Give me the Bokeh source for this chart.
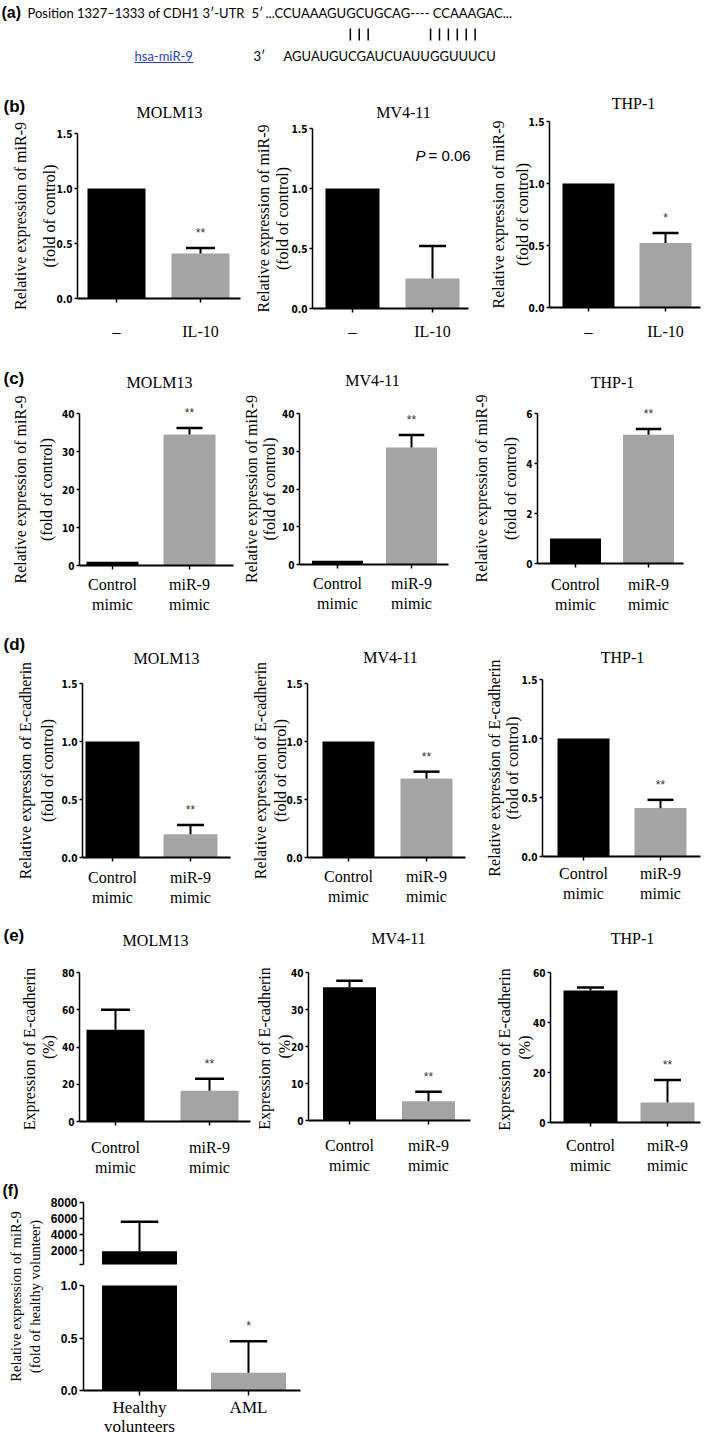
import numpy as np
from bokeh.plotting import figure
from bokeh.layouts import row, column
from bokeh.models import Range1d, Label, FixedTicker, NumeralTickFormatter, LinearAxis
from bokeh.embed import file_html
from bokeh.resources import INLINE

# ---------------- data ----------------
seq_label = "Position 1327\u20131333 of CDH1 3\u2032-UTR"
utr_prime = "5\u2032"
utr_seq = "...CCUAAAGUGCUGCAG---- CCAAAGAC..."
mir_name = "hsa-miR-9"
mir_prime = "3\u2032"
mir_seq = "AGUAUGUCGAUCUAUUGGUUUCU"
pair_idx = [7, 8, 9, 16, 17, 18, 19, 20, 21]

cell_lines = ["MOLM13", "MV4-11", "THP-1"]
mimic_groups = ["Control\nmimic", "miR-9\nmimic"]

b_groups = ["\u2013", "IL-10"]
b_yticks = [0, 0.5, 1.0, 1.5]
b_means = [[1.0, 0.41], [1.0, 0.25], [1.0, 0.52]]
b_errs = [[0.0, 0.05], [0.0, 0.27], [0.0, 0.08]]
b_stars = [["", "**"], ["", ""], ["", "*"]]
b_note = ("P", "= 0.06")

c_yticks = [[0, 10, 20, 30, 40], [0, 10, 20, 30, 40], [0, 2, 4, 6]]
c_means = [[1.0, 34.5], [1.0, 31.0], [1.0, 5.15]]
c_errs = [[0.0, 1.7], [0.0, 3.3], [0.0, 0.23]]
c_stars = [["", "**"], ["", "**"], ["", "**"]]

d_yticks = [0, 0.5, 1.0, 1.5]
d_means = [[1.0, 0.20], [1.0, 0.68], [1.0, 0.41]]
d_errs = [[0.0, 0.08], [0.0, 0.06], [0.0, 0.07]]
d_stars = [["", "**"], ["", "**"], ["", "**"]]

e_yticks = [[0, 20, 40, 60, 80], [0, 10, 20, 30, 40], [0, 20, 40, 60]]
e_means = [[49.3, 16.5], [36.0, 5.2], [52.8, 8.0]]
e_errs = [[10.7, 6.5], [1.8, 2.6], [1.2, 9.0]]
e_stars = [["", "**"], ["", "**"], ["", "**"]]

f_groups = ["Healthy\nvolunteers", "AML"]
f_means = [1900.0, 0.17]
f_errs = [3700.0, 0.30]
f_stars = ["", "*"]
f_top_ticks = [2000, 4000, 6000, 8000]
f_top_floor = 250
f_bot_ticks = [0, 0.5, 1.0]

ylab_mir = ["Relative expression of miR-9", "(fold of control)"]
ylab_ecad_rel = ["Relative expression of E-cadherin", "(fold of control)"]
ylab_ecad_pct = ["Expression of  E-cadherin", "(%)"]
ylab_f = ["Relative expression of miR-9", "(fold of healthy volunteer)"]

# ---------------- styles / layout ----------------
BLACK = "#000000"
GRAY = "#a4a4a4"
SERIF = "Liberation Serif"
SANS = "Liberation Sans"
NARROW = "Liberation Sans Narrow, DejaVu Sans Condensed, sans-serif"
CALIBRI = "Lato"


def base_figure(fw, fh, xr, yr):
    p = figure(width=fw, height=fh, x_range=Range1d(*xr), y_range=Range1d(*yr),
               min_border_left=0, min_border_right=0, min_border_top=0,
               min_border_bottom=0, output_backend="svg", toolbar_location=None,
               tools="", title=None)
    p.outline_line_color = None
    p.xgrid.visible = False
    p.ygrid.visible = False
    p.background_fill_color = "white"
    p.border_fill_color = "white"
    return p


def add_label(p, x, y, text, size="16px", font=SERIF, align="center", angle=0.0,
              style="normal", color=BLACK, range_name="default"):
    p.add_layout(Label(x=x, y=y, text=text, angle=angle, text_align=align,
                       text_baseline="middle", text_font=font, text_font_size=size,
                       text_font_style=style, text_color=color, y_range_name=range_name))


def style_yaxis(ya, ticks, fmt, loc, bounds, size="10px", family=NARROW, minor=None,
                tick_out=3):
    ya.ticker = FixedTicker(ticks=ticks, minor_ticks=minor or [])
    ya.formatter = NumeralTickFormatter(format=fmt)
    ya.fixed_location = loc
    ya.bounds = bounds
    ya.major_tick_out = tick_out
    ya.major_tick_in = 0
    ya.minor_tick_out = tick_out if minor else 0
    ya.minor_tick_in = 0
    ya.minor_tick_line_width = 1.5
    ya.axis_line_width = 1.5
    ya.major_tick_line_width = 1.5
    ya.major_label_text_font = family
    ya.major_label_text_font_style = "bold"
    ya.major_label_text_font_size = size
    ya.major_label_text_color = BLACK
    ya.major_label_standoff = 2


def style_xaxis(xa, groups, loc, bounds, xfont, lh, standoff, tick_out=4):
    xa.ticker = FixedTicker(ticks=[1, 2])
    xa.major_label_overrides = {1: groups[0], 2: groups[1]}
    xa.fixed_location = loc
    xa.bounds = bounds
    xa.major_tick_out = tick_out
    xa.major_tick_in = 0
    xa.minor_tick_out = 0
    xa.minor_tick_in = 0
    xa.axis_line_width = 2
    xa.major_tick_line_width = 1.5
    xa.major_label_text_font = SERIF
    xa.major_label_text_font_size = f"{xfont}px"
    xa.major_label_text_color = BLACK
    xa.major_label_text_line_height = lh
    xa.major_label_standoff = max(0, int(round(standoff)))


def draw_bars(p, xs, means, errs, bw, lo, hi, range_name="default"):
    keep = [i for i, m in enumerate(means) if m > lo]
    p.vbar(x=[xs[i] for i in keep], top=[min(means[i], hi) for i in keep],
           bottom=max(lo, 0), width=bw,
           fill_color=[[BLACK, GRAY][i] for i in keep], line_color=None,
           y_range_name=range_name)
    cw = bw * 0.25
    sx, s0, s1, cx0, cx1, cy = [], [], [], [], [], []
    for i, (m, e) in enumerate(zip(means, errs)):
        if e <= 0:
            continue
        t = m + e
        a, b = max(m, lo), min(t, hi)
        if b > a:
            sx.append(xs[i]); s0.append(a); s1.append(b)
        if lo <= t <= hi:
            cx0.append(xs[i] - cw); cx1.append(xs[i] + cw); cy.append(t)
    p.segment(x0=sx, y0=s0, x1=sx, y1=s1, line_color=BLACK, line_width=2,
              y_range_name=range_name)
    p.segment(x0=cx0, y0=cy, x1=cx1, y1=cy, line_color=BLACK, line_width=2.5,
              y_range_name=range_name)


def make_panel(g, ry, rh, ymax, yticks, fmt, means, errs, groups, title, ylabels,
               stars, letter=None, xfont=16, lh=1.2, star_gap=15):
    d = g["c2"] - g["c1"]
    ppu = (g["B"] - g["T"]) / ymax
    xat = lambda px: 1 + (px - g["c1"]) / d
    yat = lambda py: (g["B"] - py) / ppu
    p = base_figure(g["fw"], rh, (xat(g["fx"]), xat(g["fx"] + g["fw"])),
                    (yat(ry + rh), yat(ry)))
    xs = [1, 2]
    draw_bars(p, xs, means, errs, g["bw"] / d, 0, ymax)

    for x, m, e, s in zip(xs, means, errs, stars):
        if s:
            add_label(p, x, m + e + star_gap / ppu, s, size="12px", font=SANS,
                      color="#333333")

    style_xaxis(p.xaxis[0], groups, 0, (xat(g["L"]), xat(g["R"])), xfont, lh,
                g["xlab_y"] - g["B"] - 4 - xfont * lh / 2)
    style_yaxis(p.yaxis[0], yticks, fmt, xat(g["L"]), (0, ymax))

    add_label(p, xat(g["title"][0]), yat(g["title"][1]), title)
    cy = yat((g["T"] + g["B"]) / 2)
    for txt, px in zip(ylabels, g["ylab"]):
        add_label(p, xat(px), cy, txt, angle=np.pi / 2)
    if letter:
        add_label(p, xat(letter[1][0]), yat(letter[1][1]), letter[0], size="17px",
                  font=SANS, align="left", style="bold")
    return p, xat, yat


# ---------------- panel (a) ----------------
pa = base_figure(709, 68, (0, 709), (68, 0))
pa.xaxis.visible = False
pa.yaxis.visible = False
add_label(pa, 1, 12, "(a)", size="16px", font=SANS, align="left", style="bold")
add_label(pa, 27, 12, seq_label, size="13px", font=CALIBRI, align="left")
add_label(pa, 251, 12, utr_prime, size="13px", font=CALIBRI, align="left")
add_label(pa, 265, 12, utr_seq, size="13px", font=CALIBRI, align="left")
add_label(pa, 134, 55, mir_name, size="13px", font=CALIBRI, align="left", color="#2b3fc4")
add_label(pa, 253, 55, mir_prime, size="13px", font=CALIBRI, align="left")
add_label(pa, 283, 55, mir_seq, size="13px", font=CALIBRI, align="left")
seq_x0, seq_x1 = 283, 488
cwid = (seq_x1 - seq_x0) / len(mir_seq)
bx = [seq_x0 + (i + 0.5) * cwid for i in pair_idx]
pa.segment(x0=bx, y0=[28] * len(bx), x1=bx, y1=[40] * len(bx), line_color=BLACK,
           line_width=1.5)
pa.segment(x0=[134], y0=[62], x1=[193], y1=[62], line_color="#2b3fc4", line_width=1)

# ---------------- rows b-e ----------------
RB = (68, 277)
GB = [
    dict(fx=0, fw=242, L=77, R=240, T=133, B=298, c1=116, c2=200, bw=58,
         title=(169, 112), ylab=(20, 49), xlab_y=332),
    dict(fx=242, fw=236, L=312, R=468, T=128, B=308, c1=352, c2=432, bw=54,
         title=(403, 112), ylab=(263, 282), xlab_y=332),
    dict(fx=478, fw=231, L=549, R=700, T=121, B=307, c1=588, c2=665, bw=52,
         title=(633, 103), ylab=(498, 522), xlab_y=332),
]
RC = (345, 270)
GC = [
    dict(fx=0, fw=243, L=79, R=233, T=413, B=565, c1=112, c2=189, bw=52,
         title=(159, 382), ylab=(20, 46), xlab_y=585),
    dict(fx=243, fw=227, L=299, R=448, T=413, B=564, c1=337, c2=411, bw=51,
         title=(372, 380), ylab=(251, 269), xlab_y=584),
    dict(fx=470, fw=239, L=537, R=683, T=413, B=563, c1=575, c2=648, bw=51,
         title=(612, 382), ylab=(481, 510), xlab_y=585),
]
RD = (615, 297)
GD = [
    dict(fx=0, fw=245, L=82, R=230, T=683, B=857, c1=112, c2=190, bw=54,
         title=(166, 658), ylab=(25, 47), xlab_y=878),
    dict(fx=245, fw=230, L=307, R=465, T=683, B=857, c1=348, c2=426, bw=52,
         title=(390, 657), ylab=(260, 280), xlab_y=877),
    dict(fx=475, fw=234, L=542, R=700, T=679, B=856, c1=583, c2=660, bw=52,
         title=(622, 657), ylab=(494, 512), xlab_y=874),
]
RE = (912, 270)
GE = [
    dict(fx=0, fw=255, L=79, R=250, T=972, B=1121, c1=115, c2=209, bw=58,
         title=(155, 940), ylab=(29, 48), xlab_y=1148),
    dict(fx=255, fw=235, L=308, R=470, T=972, B=1120, c1=349, c2=428, bw=53,
         title=(398, 938), ylab=(264, 284), xlab_y=1146),
    dict(fx=490, fw=219, L=550, R=700, T=972, B=1122, c1=590, c2=667, bw=54,
         title=(632, 938), ylab=(504, 524), xlab_y=1146),
]

row_b, row_c, row_d, row_e = [], [], [], []
for i, g in enumerate(GB):
    p, xat, yat = make_panel(g, RB[0], RB[1], 1.5, b_yticks, "0.0", b_means[i], b_errs[i],
                             b_groups, cell_lines[i], ylab_mir, b_stars[i],
                             letter=("(b)", (3, 106)) if i == 0 else None)
    if i == 1:
        add_label(p, xat(415), yat(155), b_note[0], size="15px", font=SANS,
                  align="left", style="italic")
        add_label(p, xat(428), yat(155), b_note[1], size="15px", font=SANS, align="left")
    row_b.append(p)

for i, g in enumerate(GC):
    yt = c_yticks[i]
    p, _, _ = make_panel(g, RC[0], RC[1], yt[-1], yt, "0", c_means[i], c_errs[i],
                         mimic_groups, cell_lines[i], ylab_mir, c_stars[i],
                         letter=("(c)", (3, 378)) if i == 0 else None)
    row_c.append(p)

for i, g in enumerate(GD):
    p, _, _ = make_panel(g, RD[0], RD[1], 1.5, d_yticks, "0.0", d_means[i], d_errs[i],
                         mimic_groups, cell_lines[i], ylab_ecad_rel, d_stars[i],
                         letter=("(d)", (3, 644)) if i == 0 else None)
    row_d.append(p)

for i, g in enumerate(GE):
    yt = e_yticks[i]
    p, _, _ = make_panel(g, RE[0], RE[1], yt[-1], yt, "0", e_means[i], e_errs[i],
                         mimic_groups, cell_lines[i], ylab_ecad_pct, e_stars[i],
                         letter=("(e)", (3, 935)) if i == 0 else None)
    row_e.append(p)

# ---------------- panel (f): broken y axis ----------------
GF = dict(fx=0, fw=320, L=83, R=300, c1=139, c2=248, bw=75, xlab_y=1406)
RF = (1182, 255)
LOW = dict(T=1285, B=1390, lo=0.0, hi=1.0)
UP = dict(T=1202, B=1264, lo=float(f_top_floor), hi=8000.0)
dF = GF["c2"] - GF["c1"]
fxat = lambda px: 1 + (px - GF["c1"]) / dF
low_ppu = (LOW["B"] - LOW["T"]) / (LOW["hi"] - LOW["lo"])
up_ppu = (UP["B"] - UP["T"]) / (UP["hi"] - UP["lo"])
lyat = lambda py: LOW["lo"] + (LOW["B"] - py) / low_ppu
uyat = lambda py: UP["lo"] + (UP["B"] - py) / up_ppu

pf = base_figure(GF["fw"], RF[1], (fxat(0), fxat(GF["fw"])),
                 (lyat(RF[0] + RF[1]), lyat(RF[0])))
pf.extra_y_ranges = {"top": Range1d(uyat(RF[0] + RF[1]), uyat(RF[0]))}
xs = [1, 2]
bwf = GF["bw"] / dF
draw_bars(pf, xs, f_means, f_errs, bwf, LOW["lo"], LOW["hi"])
draw_bars(pf, xs, f_means, f_errs, bwf, UP["lo"], UP["hi"], range_name="top")

style_xaxis(pf.xaxis[0], f_groups, 0, (fxat(GF["L"]), fxat(GF["R"])), 17, 1.0,
            GF["xlab_y"] - LOW["B"] - 5 - 17 * 1.0 / 2, tick_out=5)
style_yaxis(pf.yaxis[0], f_bot_ticks, "0.0", fxat(GF["L"]), (LOW["lo"], LOW["hi"]),
            size="12px", family=SANS, tick_out=4)
top_axis = LinearAxis(y_range_name="top")
pf.add_layout(top_axis, "left")
style_yaxis(top_axis, f_top_ticks, "0", fxat(GF["L"]), (UP["lo"], UP["hi"]),
            size="12px", family=SANS, minor=[UP["lo"]], tick_out=4)

for x, m, e, s in zip(xs, f_means, f_errs, f_stars):
    if s:
        add_label(pf, x, m + e + 15 / low_ppu, s, size="12px", font=SANS,
                  color="#333333")
cyf = lyat(1296)
for txt, px in zip(ylab_f, (15, 34)):
    add_label(pf, fxat(px), cyf, txt, size="14.5px", angle=np.pi / 2)
add_label(pf, fxat(2), lyat(1190), "(f)", size="16px", font=SANS, align="left",
          style="bold")

layout = column(pa, row(*row_b), row(*row_c), row(*row_d), row(*row_e), pf)

open("out.html", "w").write(file_html(layout, INLINE))
